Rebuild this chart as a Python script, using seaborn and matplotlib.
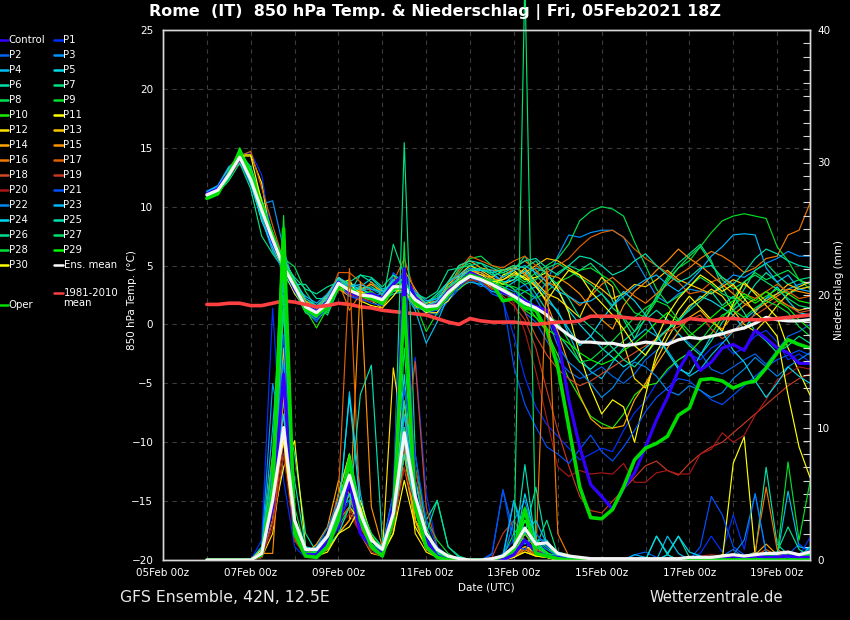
import numpy as np
import pandas as pd
import matplotlib
matplotlib.use("Agg")
import matplotlib.pyplot as plt
import seaborn as sns
from matplotlib.lines import Line2D

# 6-hourly steps from 06Feb 00z to 19Feb 18z (56 values per series)
date_labels = ['05Feb 00z', '07Feb 00z', '09Feb 00z', '11Feb 00z',
               '13Feb 00z', '15Feb 00z', '17Feb 00z', '19Feb 00z']

ens_mean_t = [11.0, 11.4, 12.7, 14.2, 12.3, 9.7, 7.2, 4.9, 3.2, 1.5, 1.0, 1.8, 3.5, 2.9, 2.5, 2.4,
              2.1, 3.2, 3.2, 2.1, 1.5, 1.6, 2.7, 3.5, 4.1, 3.8, 3.4, 2.9, 2.4, 1.8, 1.4, 0.8,
              -0.2, -0.9, -1.5, -1.5, -1.6, -1.6, -1.8, -1.7, -1.5, -1.6, -1.7, -1.3, -1.1, -1.2,
              -1.0, -0.8, -0.5, -0.3, 0.1, 0.6, 0.4, 0.3, 0.3, 0.4]
clim_t = [1.7, 1.7, 1.8, 1.8, 1.6, 1.6, 1.8, 2.0, 1.9, 1.7, 1.5, 1.6, 1.8, 1.7, 1.5, 1.4,
          1.2, 1.1, 1.0, 0.9, 0.8, 0.5, 0.2, 0.0, 0.5, 0.3, 0.2, 0.2, 0.2, 0.1, 0.0, 0.1,
          0.2, 0.2, 0.3, 0.7, 0.7, 0.7, 0.6, 0.5, 0.5, 0.3, 0.2, 0.1, 0.5, 0.4, 0.3, 0.5,
          0.5, 0.4, 0.4, 0.4, 0.5, 0.6, 0.7, 0.8]
oper_t = [10.7, 11.1, 12.8, 14.6, 12.5, 10.0, 7.5, 4.8, 3.3, 1.3, 0.8, 1.5, 3.3, 3.0, 2.5, 2.2,
          1.8, 3.0, 3.3, 1.8, 1.2, 1.4, 2.5, 3.6, 4.2, 3.9, 3.5, 2.0, 2.2, 1.4, 1.2, -0.5,
          -3.6, -8.7, -13.8, -16.4, -16.5, -15.7, -13.8, -11.5, -10.5, -10.1, -9.5, -7.7,
          -7.1, -4.7, -4.6, -4.8, -5.4, -5.0, -4.8, -3.7, -2.4, -1.3, -1.7, -2.0]
control_t = [11.1, 11.5, 12.9, 14.1, 12.5, 9.8, 7.0, 5.0, 3.0, 1.6, 1.1, 1.9, 3.6, 2.7, 2.4, 2.6,
             2.2, 3.4, 4.3, 2.3, 1.4, 1.7, 2.8, 3.6, 4.4, 4.0, 3.5, 2.7, 2.5, 2.0, 1.5, 1.2,
             -1.1, -6.4, -10.4, -13.6, -14.6, -15.7, -13.9, -12.6, -10.4, -8.1, -6.2, -3.9,
             -2.3, -3.9, -3.2, -2.0, -1.7, -2.2, -0.5, -1.2, -2.0, -2.4, -3.3, -3.3]

ens_mean_rr = [0, 0, 0, 0, 0, 0.5, 4.5, 10.0, 3.0, 0.8, 0.8, 1.8, 4.0, 6.4, 3.5, 1.5,
               0.8, 3.5, 9.6, 4.8, 2.0, 0.8, 0.3, 0.1, 0, 0, 0.1, 0.3, 1.0, 2.4, 1.2, 1.3,
               0.5, 0.3, 0.2, 0.1, 0.1, 0.1, 0.1, 0.1, 0.1, 0.1, 0.1, 0.1, 0.2, 0.2, 0.2, 0.3,
               0.4, 0.3, 0.4, 0.5, 0.5, 0.6, 0.4, 0.6]
oper_rr = [0, 0, 0, 0, 0, 0.5, 5, 25, 2, 0.3, 0.2, 1, 3, 7.5, 3, 1,
           0.3, 3, 19.8, 4, 1, 0.2, 0, 0, 0, 0, 0, 0.3, 0.8, 3.8, 0.5, 0.3,
           0.1, 0, 0, 0, 0, 0, 0, 0, 0, 0, 0, 0, 0, 0, 0, 0, 0, 0, 0, 0, 0, 0, 0, 0]
control_rr = [0, 0, 0, 0, 0, 0.5, 4, 14, 2, 0.4, 0.4, 1.4, 2.5, 6, 2, 1,
              0.5, 4, 22, 5, 1.5, 0.3, 0, 0, 0, 0, 0, 0, 0.4, 1.5, 0.6, 0.3,
              0.2, 0, 0, 0, 0, 0, 0, 0, 0, 0, 0, 0, 0, 0, 0, 0.2, 0.3, 0.2, 0.3, 0.2, 0.2, 0.3, 0.2, 0.2]

temp_p1 = [11.2, 11.6, 13.0, 14.4, 14.6, 12.7, 7.0, 5.2, 3.0, 1.2, 0.6, 1.5, 3.2, 2.4, 2.0, 2.2, 1.6, 4.0, 3.6, 2.0, 0.8, 1.0, 2.2, 3.4, 4.4, 4.6, 3.0,
           2.0, -1.0, -4.5, -7.0, -8.5, -9.5, -10.5, -11.5, -11.0, -10.5, -10.8, -9.0, -7.5, -6.5, -5.0, -4.0, -3.0, -2.5, -3.0, -2.0, -1.5, -2.5, -2.0, -1.0, -0.5, -1.5, -3.0, -2.5, -3.2]
temp_p2 = [11.1, 11.5, 12.9, 14.0, 12.0, 9.2, 6.8, 5.0, 3.4, 1.2, 0.2, 1.6, 3.6, 2.6, 2.8, 2.0, 2.4, 3.0, 3.6, 2.6, 1.2, 0.8, 2.0, 3.0, 3.8, 3.2, 3.8,
           3.0, 2.4, 1.0, 0.2, -1.4, -3.0, -4.0, -4.6, -4.2, -3.6, -4.4, -5.0, -4.2, -3.0, -2.2, -1.6, -0.8, -1.6, -2.4, -3.8, -4.2, -3.6, -3.0, -2.5, -3.4, -2.2, -1.0, -0.6, 0.0]
temp_p3 = [11.3, 11.7, 13.1, 13.6, 12.6, 10.2, 10.5, 6.4, 3.2, 1.9, 0.9, 2.1, 3.8, 3.3, 2.9, 3.0, 2.5, 3.8, 4.2, 2.5, 1.8, 2.2, 3.0, 4.0, 4.6, 4.8, 4.2,
           3.6, 3.0, 1.6, 2.4, 3.6, 5.8, 7.6, 7.4, 7.8, 8.0, 8.0, 7.4, 5.6, 4.0, 2.4, 1.8, 2.6, 3.0, 2.8, 2.6, 3.4, 4.2, 4.0, 4.6, 5.2, 5.6, 6.2, 5.8, 5.8]
temp_p4 = [11.2, 11.5, 12.6, 13.8, 12.0, 9.0, 6.2, 4.6, 3.6, 1.8, 1.4, 2.0, 3.9, 3.5, 3.2, 2.4, 2.0, 2.6, 2.8, 1.2, -1.6, 0.2, 2.4, 3.2, 3.6, 3.4, 2.8,
           2.6, 2.2, 2.8, 3.2, 2.0, 1.2, -0.8, -2.8, -4.0, -4.6, -3.2, -2.0, -1.2, -0.4, -1.0, -2.2, -3.6, -4.4, -3.8, -2.6, -1.6, -0.6, 0.4, 1.2, 2.2, 2.6, 3.0, 3.4, 3.6]
temp_p5 = [11.1, 11.4, 12.8, 14.3, 12.2, 9.9, 6.6, 4.4, 2.9, 1.0, 0.6, 2.2, 3.3, 2.6, 3.2, 3.9, 3.0, 3.4, 3.0, 2.4, 1.6, 1.2, 2.4, 3.8, 4.0, 3.5, 3.0,
           3.0, 3.6, 4.2, 4.8, 4.4, 3.0, 1.2, 0.0, -1.0, -2.0, -2.8, -3.6, -3.0, -2.0, -1.2, -0.4, 0.2, 1.4, 2.4, 2.0, 1.4, 0.8, -0.4, 1.0, 2.2, 3.2, 2.0, 1.0, 0.8]
temp_p6 = [10.9, 11.3, 12.4, 14.1, 12.8, 10.4, 7.8, 5.2, 3.4, 3.4, 2.2, 2.2, 3.4, 2.7, 4.2, 3.6, 2.9, 2.8, 3.0, 2.0, 1.6, 1.9, 3.1, 3.8, 4.6, 4.4, 3.8,
           3.4, 4.2, 4.0, 2.6, 1.2, -0.8, -2.0, -3.2, -3.8, -3.0, -2.2, -1.4, -0.6, 0.4, 1.2, 0.4, -0.8, -1.8, -2.6, -1.4, 0.2, 1.2, 2.0, 3.4, 4.4, 3.6, 2.6, 3.0, 3.2]
temp_p7 = [10.8, 11.2, 12.2, 13.7, 11.5, 7.5, 6.0, 4.7, 3.6, 2.0, 1.6, 0.8, 3.0, 3.0, 2.4, 2.8, 1.8, 6.8, 4.2, 2.2, 1.0, 1.4, 3.0, 4.8, 5.2, 4.0, 3.6,
           4.0, 4.6, 5.8, 4.2, 3.2, 4.4, 5.0, 4.6, 5.2, 4.2, 2.0, 0.4, -1.2, 0.6, 2.4, 4.0, 5.2, 6.0, 6.8, 5.4, 3.2, 1.4, 3.0, 4.6, 5.2, 4.2, 3.4, 3.8, 4.0]
temp_p8 = [10.8, 11.3, 12.5, 14.6, 12.4, 9.6, 7.4, 5.6, 4.9, 2.8, 1.4, 1.0, 3.4, 2.8, 2.2, 2.0, 2.4, 3.6, 3.4, 2.6, 1.8, 2.4, 3.6, 4.4, 5.6, 5.8, 5.0,
           4.6, 4.2, 3.6, 4.4, 5.0, 5.6, 6.8, 8.8, 9.6, 10.0, 9.8, 9.2, 7.0, 5.0, 3.0, 1.8, 2.4, 3.2, 4.0, 3.4, 2.6, 2.2, 3.6, 4.4, 3.8, 4.2, 4.6, 3.8, 3.4]
temp_p9 = [10.7, 11.0, 12.6, 14.8, 12.6, 10.0, 7.0, 4.2, 2.8, 1.0, 0.4, 1.2, 3.2, 2.4, 2.6, 2.8, 2.2, 4.2, 3.0, 1.8, -0.6, 1.0, 2.8, 3.6, 4.0, 4.2, 3.6,
           3.4, 3.2, 2.8, 2.2, 2.8, 3.6, 4.0, 4.6, 4.8, 4.2, 3.6, 2.2, 1.0, 0.6, 2.0, 3.8, 4.8, 5.4, 6.6, 7.8, 8.8, 9.2, 9.4, 9.2, 9.0, 6.6, 5.4, 3.8, 3.0]
temp_p10 = [10.7, 11.2, 12.8, 14.9, 12.9, 10.4, 7.6, 5.0, 3.0, 1.3, -0.3, 1.4, 3.6, 3.4, 2.6, 2.6, 1.6, 3.0, 2.6, 1.6, 1.2, 1.8, 2.6, 3.0, 3.8, 3.6, 3.2,
            3.0, 2.6, 1.8, 0.6, -0.6, -2.6, -4.6, -6.2, -7.8, -8.4, -8.8, -7.6, -6.0, -5.2, -5.0, -3.8, -3.0, -2.4, -1.4, -0.8, 0.6, 1.6, 2.4, 1.8, 2.4, 3.0, 2.6, 2.0, 1.8]
temp_p11 = [11.0, 11.5, 12.9, 14.4, 14.4, 12.0, 6.4, 4.6, 2.6, 1.4, 0.8, 2.0, 3.4, 3.8, 2.0, 1.6, 1.4, 2.4, 3.6, 1.6, 1.2, 1.4, 2.0, 3.4, 4.2, 4.0, 3.0,
            4.2, 4.6, 3.8, 4.0, 4.4, 3.0, 1.0, -2.6, -5.4, -7.6, -6.4, -7.0, -10.0, -6.0, -2.4, -0.6, 1.2, 2.4, 1.4, 0.4, -0.6, 1.8, 3.6, 2.6, 1.6, 0.6, -2.0, -4.0, -6.0]
temp_p12 = [11.0, 11.4, 12.7, 14.0, 12.2, 9.5, 7.6, 5.4, 3.6, 1.9, 1.2, 2.4, 3.4, 3.0, 2.4, 2.2, 1.8, 3.4, 3.8, 2.2, 1.0, 1.0, 2.4, 4.2, 5.0, 4.6, 4.0,
            3.4, 3.8, 4.8, 3.6, 2.6, 2.2, 1.4, 0.6, 2.6, 4.0, 3.2, -1.6, -4.6, -5.4, -3.0, -1.2, 0.4, 1.6, 2.2, 3.0, 2.4, 1.2, 0.0, -0.6, 0.4, 1.6, 2.6, 3.2, 3.6]
temp_p13 = [11.1, 11.6, 13.0, 14.5, 13.0, 8.8, 7.2, 5.8, 3.2, 1.6, 1.0, 1.6, 3.0, 2.6, 3.0, 3.4, 2.8, 3.2, 2.8, 1.4, 1.8, 2.0, 3.4, 4.2, 4.6, 4.2, 4.0,
            4.6, 4.8, 4.4, 5.0, 5.6, 5.4, 4.8, 4.2, 3.6, 3.0, 2.2, 2.6, 3.4, 3.2, 3.8, 4.6, 3.8, 3.4, 3.0, 2.6, 3.2, 3.8, 3.4, 2.8, 2.0, 2.6, 3.4, 3.0, 3.2]
temp_p14 = [11.2, 11.6, 13.3, 14.4, 12.6, 9.8, 6.8, 5.6, 3.8, 2.0, 1.4, 2.6, 4.0, 3.2, 2.4, 2.0, 1.4, 3.0, 4.6, 3.0, 1.6, 1.4, 3.6, 5.0, 5.4, 4.8, 4.6,
            4.6, 5.0, 4.2, 3.4, 1.8, -0.6, -3.4, -6.0, -8.0, -8.8, -8.8, -8.6, -6.4, -5.0, -3.4, -2.0, -0.6, 0.6, 1.2, 0.2, -0.4, 0.8, 1.6, 2.2, 2.8, 2.2, 1.6, 1.2, 1.4]
temp_p15 = [11.0, 11.5, 12.7, 14.1, 12.4, 9.4, 7.0, 5.4, 3.6, 1.4, 1.0, 2.6, 3.0, 2.4, 2.6, 2.4, 2.0, 3.2, 3.4, 2.6, 1.4, 1.6, 2.8, 4.0, 4.6, 4.4, 3.8,
            3.8, 4.2, 4.4, 3.2, 4.2, 4.0, 3.4, 2.6, 1.4, 0.4, -0.4, 1.6, 2.8, 3.6, 4.6, 5.4, 6.4, 5.6, 5.0, 4.2, 3.4, 2.6, 1.8, 1.2, 1.8, 2.4, 3.0, 2.8, 2.6]
temp_p16 = [11.1, 11.5, 12.9, 14.6, 12.2, 9.0, 7.6, 5.0, 3.4, 1.6, 0.6, 1.6, 3.6, 1.2, 2.6, 3.6, 2.4, 3.0, 2.8, 1.8, 1.4, 1.2, 2.6, 3.6, 4.2, 4.0, 3.6,
            4.0, 4.8, 5.4, 4.6, 3.6, 3.2, 2.4, 1.6, 2.4, 3.4, 4.0, 3.2, 2.4, 1.8, 2.6, 3.4, 4.2, 4.8, 5.6, 6.2, 5.8, 5.2, 4.4, 4.8, 5.6, 5.8, 7.6, 8.0, 10.3]
temp_p17 = [11.0, 11.4, 12.6, 14.3, 14.7, 11.6, 8.4, 5.4, 3.4, 1.6, 1.2, 2.0, 4.4, 4.4, 3.6, 2.8, 2.0, 3.6, 5.6, 2.6, 1.6, 2.0, 3.0, 4.6, 5.8, 5.4, 5.0,
            4.8, 5.4, 5.8, 5.0, 4.4, 5.0, 5.6, 6.6, 7.4, 7.8, 8.0, 7.4, 6.4, 5.6, 5.0, 4.4, 3.6, 2.6, 2.8, 3.6, 4.0, 3.2, 2.6, 2.2, 2.8, 3.4, 2.8, 2.2, 2.4]
temp_p18 = [10.9, 11.3, 12.6, 14.0, 12.8, 10.2, 7.2, 4.8, 3.0, 1.6, 1.1, 1.8, 3.4, 2.8, 2.4, 2.6, 2.2, 3.6, 3.0, 2.2, 1.6, 1.8, 2.6, 3.6, 3.8, 3.6, 3.0,
            3.0, 2.2, 1.0, -1.0, -2.6, -3.8, -4.6, -5.2, -4.8, -4.2, -3.6, -3.0, -2.4, -1.8, -1.2, -0.6, -0.2, 0.4, 0.8, -0.4, -1.2, -0.6, 0.2, 0.8, 1.4, 2.0, 1.6, 1.0, 1.2]
temp_p19 = [11.0, 11.5, 12.5, 13.9, 12.2, 9.6, 7.0, 5.2, 3.0, 1.4, 0.8, 1.6, 3.4, 2.6, 2.0, 2.0, 1.8, 3.4, 3.2, 2.0, 1.2, 1.8, 3.0, 3.4, 4.0, 3.8, 3.2,
            2.4, 1.6, 0.4, -2.0, -5.6, -9.0, -12.0, -14.6, -15.8, -16.0, -15.0, -14.0, -13.0, -12.0, -11.6, -12.4, -12.8, -11.8, -11.0, -10.4, -10.0, -9.2, -8.4, -7.6, -6.8, -6.0, -5.2, -4.6, -4.2]
temp_p20 = [11.1, 11.4, 12.8, 14.2, 12.6, 9.8, 7.4, 5.0, 3.2, 1.7, 1.2, 1.6, 3.2, 2.6, 2.2, 2.0, 2.2, 3.0, 3.0, 2.0, 1.4, 1.6, 2.4, 3.2, 3.8, 3.6, 3.0,
            2.8, 1.8, -0.6, -4.0, -8.0, -12.1, -12.9, -12.4, -12.7, -12.6, -12.7, -11.8, -13.4, -13.4, -12.6, -12.4, -12.7, -12.7, -11.0, -10.6, -9.2, -10.0, -9.4, -7.7, -6.4, -4.7, -4.2, -3.6, -3.8]
temp_p21 = [11.2, 11.6, 12.9, 14.4, 12.4, 9.4, 7.0, 4.6, 2.8, 1.2, 0.4, 1.4, 3.4, 2.4, 2.2, 1.8, 1.6, 4.4, 3.4, 1.8, 1.0, 1.2, 2.2, 3.2, 4.0, 3.6, 2.6,
            2.2, -3.6, -6.8, -8.7, -10.4, -11.0, -11.8, -10.6, -9.4, -10.8, -11.6, -10.4, -9.0, -7.4, -6.2, -5.4, -4.6, -4.8, -5.6, -6.4, -6.8, -6.0, -5.2, -4.4, -3.6, -3.0, -2.6, -2.2, -2.6]
temp_p22 = [11.3, 11.7, 13.0, 14.0, 11.8, 9.0, 6.4, 4.4, 3.6, 1.8, 0.9, 2.0, 3.8, 3.2, 2.6, 2.4, 2.6, 3.4, 2.6, 1.4, 1.2, 1.6, 2.8, 3.4, 4.0, 3.8, 3.4,
            3.2, 2.8, 3.4, 2.2, 0.6, -1.8, -3.2, -4.0, -5.0, -6.2, -5.4, -4.0, -3.2, -3.6, -4.4, -5.6, -6.0, -5.2, -5.6, -6.2, -5.8, -4.6, -3.8, -2.8, -3.6, -4.4, -3.6, -3.0, -2.4]
temp_p23 = [11.3, 11.8, 13.4, 14.0, 13.2, 9.4, 7.8, 5.4, 3.2, 2.4, 1.8, 2.6, 3.8, 3.2, 3.4, 3.0, 2.8, 3.6, 3.8, 2.8, 2.0, 2.2, 3.6, 4.2, 4.8, 4.6, 4.6,
            4.0, 4.6, 5.0, 4.4, 3.6, 2.8, 2.4, 1.8, 2.0, 2.6, 1.6, 2.4, 3.2, 3.8, 4.2, 3.4, 2.8, 3.6, 4.6, 5.8, 6.6, 7.6, 7.7, 7.6, 4.8, 3.6, 4.2, 3.0, 2.8]
temp_p24 = [11.2, 11.6, 13.2, 14.2, 12.0, 8.8, 6.6, 5.6, 3.8, 2.2, 1.6, 2.4, 4.0, 3.4, 3.0, 2.6, 2.2, 2.8, 3.4, 2.4, 1.6, 2.0, 3.2, 4.0, 4.6, 4.6, 4.4,
            3.6, 3.8, 4.6, 3.4, 2.4, 1.0, -0.4, -1.8, -1.0, 0.4, 1.6, 2.8, 2.0, 0.8, -0.8, -2.4, -3.8, -4.2, -2.6, -1.0, -0.6, -2.2, -3.2, -4.8, -6.2, -5.0, -3.6, -4.4, -5.0]
temp_p25 = [10.9, 11.3, 12.8, 14.5, 13.4, 10.6, 7.8, 5.4, 3.4, 1.8, 1.4, 2.2, 3.6, 3.0, 3.0, 3.2, 2.6, 3.8, 3.4, 2.6, 1.8, 2.6, 3.6, 5.0, 5.4, 5.2, 4.8,
            4.4, 4.8, 5.4, 5.6, 4.8, 4.2, 5.0, 5.8, 5.6, 5.0, 4.2, 4.6, 5.4, 6.0, 5.0, 4.2, 3.6, 4.0, 4.8, 5.0, 4.0, 3.4, 4.4, 5.6, 6.4, 6.0, 5.4, 5.0, 4.8]
temp_p26 = [10.8, 11.2, 12.6, 14.2, 12.0, 9.2, 7.0, 5.2, 4.0, 3.0, 2.6, 3.2, 3.6, 3.6, 4.2, 4.0, 3.2, 4.2, 3.6, 2.6, 2.2, 2.8, 4.6, 4.8, 5.0, 5.2, 4.4,
            4.6, 5.0, 4.8, 5.4, 4.2, 3.4, 2.2, 0.6, -0.2, -1.0, -2.0, -3.0, -3.6, -2.6, -1.4, -0.4, 0.4, 1.2, 2.0, 2.8, 1.6, 2.4, 1.0, -0.6, -1.4, -2.4, -1.8, -1.0, -1.6]
temp_p27 = [10.8, 11.2, 12.4, 14.3, 12.2, 9.8, 7.4, 5.0, 3.2, 1.4, 1.2, 1.8, 3.8, 3.0, 2.4, 2.2, 2.4, 3.2, 4.0, 2.4, 1.4, 1.8, 3.2, 3.8, 4.6, 4.8, 4.2,
            4.4, 4.0, 3.4, 3.8, 4.8, 5.2, 4.6, 4.0, 3.4, 2.6, 1.4, 0.6, -0.6, 1.0, 2.2, 3.6, 4.8, 5.8, 6.6, 5.2, 3.8, 3.0, 3.6, 4.2, 3.6, 3.0, 2.2, 1.6, 1.4]
temp_p28 = [10.7, 11.1, 12.5, 14.8, 13.2, 10.6, 7.2, 5.0, 3.4, 1.2, 0.6, 1.8, 3.4, 2.6, 2.4, 2.8, 2.0, 3.0, 3.2, 2.0, 1.4, 1.6, 2.8, 3.6, 4.2, 4.0, 3.8,
            3.6, 3.0, 2.2, 1.4, 0.8, 0.2, -1.4, -3.2, -3.0, -2.2, -1.4, -0.4, 0.6, 1.4, 2.0, 1.6, 0.4, -0.6, -1.4, -0.2, 0.8, 1.2, 0.6, 1.4, 2.0, 1.6, 1.0, -0.2, -1.0]
temp_p29 = [10.7, 11.1, 12.7, 15.0, 13.0, 10.2, 7.6, 5.4, 3.6, 1.8, 1.0, 1.4, 3.0, 2.8, 2.6, 2.4, 2.0, 3.4, 3.0, 2.0, 1.6, 1.4, 2.4, 3.4, 4.4, 4.0, 3.6,
            3.2, 2.4, 1.2, 0.6, -0.4, -1.0, -1.6, -2.4, -3.0, -3.4, -3.0, -2.2, -1.6, -0.8, 0.2, 1.0, 0.2, -1.0, -0.2, 0.6, 1.4, 2.0, 2.6, 2.0, 2.8, 2.0, 1.4, 0.4, -0.4]
temp_p30 = [11.0, 11.5, 12.8, 14.3, 14.3, 10.4, 7.0, 5.0, 3.0, 1.2, 0.8, 1.8, 3.2, 2.8, 2.8, 2.4, 2.2, 3.0, 2.8, 1.8, 1.0, 1.4, 2.6, 3.8, 4.4, 4.2, 3.6,
            3.8, 4.4, 4.0, 3.2, 2.0, 3.4, 4.6, 4.2, 2.8, 1.8, 0.8, -0.4, -1.8, -2.6, -1.2, 0.8, 2.2, 3.2, 4.2, 3.6, 2.8, 3.4, 2.2, 1.0, 0.2, -1.0, -6.0, -10.4, -13.0]

rr_p1 = [0, 0, 0, 0, 0, 1.5, 19, 6, 1, 0.2, 0.3, 1.2, 3, 4.5, 2, 0.6, 0.4, 2.5, 8, 15.3, 5, 1, 0.2, 0, 0, 0, 0, 0.5, 1.5, 2.5, 1, 0.8,
         0.3, 0, 0, 0, 0, 0, 0, 0, 0, 0, 0, 0, 0, 0.5, 1.8, 0.6, 3.4, 0.8, 5.0, 0.4, 0.2, 0.6, 0.3, 1.7]
rr_p2 = [0, 0, 0, 0, 0, 0.3, 6, 14, 2.5, 0.4, 0.6, 1.5, 3.5, 6, 3, 1, 0.5, 3, 12, 6, 2, 0.5, 0, 0, 0, 0, 0.4, 5.3, 2, 1.4, 0.6, 0.3,
         0.2, 0, 0, 0, 0, 0, 0, 0.4, 0.6, 0.2, 0, 0, 0, 0, 0, 0.3, 0.8, 0.2, 0.4, 0.2, 0, 0.2, 0.4, 0.2]
rr_p3 = [0, 0, 0, 0, 0, 0.8, 13.3, 9, 2, 0.6, 1, 2, 4, 4.5, 3, 1.4, 1, 4, 10, 4, 1.5, 0.5, 0.2, 0, 0, 0, 0, 0, 0.4, 1, 0.5, 0.2,
         0, 0, 0, 0, 0, 0, 0, 0, 0, 0, 0, 0, 0, 0, 0.2, 0, 0, 0, 0, 0, 0, 0, 0.3, 0]
rr_p4 = [0, 0, 0, 0, 0, 0.4, 5, 18.9, 3, 1, 0.8, 1.6, 3, 12.7, 5, 1, 0.4, 3, 9, 5, 2, 0.6, 0.2, 0, 0, 0, 0, 0.2, 4.5, 1.2, 2, 1,
         0.3, 0.2, 0, 0, 0, 0, 0, 0, 0, 0, 1.8, 0.5, 0, 0, 0, 0, 0, 0, 0, 0.6, 0.2, 5.2, 1, 0.8]
rr_p5 = [0, 0, 0, 0, 0, 1, 7, 12, 2, 0.5, 0.8, 1.4, 5, 8, 4, 1.2, 0.6, 4, 14, 4, 1, 0.3, 0, 0, 0, 0, 0, 0, 0.5, 3, 1.5, 1.5,
         0.4, 0, 0, 0, 0, 0, 0, 0, 0, 0, 0, 0, 0, 0, 0, 0.2, 0, 0.2, 0.6, 0.3, 0, 0, 0.3, 0.4]
rr_p6 = [0, 0, 0, 0, 0, 0.6, 6, 12, 8, 2, 0.6, 1.2, 3, 5, 4, 2, 1, 5, 10, 6, 3, 4.5, 1, 0.2, 0, 0, 0, 0, 0.4, 2, 5.5, 1,
         0.3, 0, 0, 0, 0, 0, 0, 0, 0, 1.8, 0.4, 1.8, 0.2, 0, 0, 0, 0, 0, 0.4, 7.0, 1.2, 0.4, 0.2, 0.3]
rr_p7 = [0, 0, 0, 0, 0, 0.2, 3, 16, 2, 0.3, 0.6, 1.8, 4, 7, 3, 1, 0.5, 4, 31.5, 8, 2.5, 0.6, 0.2, 0, 0, 0, 0, 0, 0.8, 2, 1, 3,
         0.4, 0.2, 0, 0, 0, 0, 0, 0, 0, 0, 0, 0, 0, 0, 0.3, 0, 0, 0, 0, 0.2, 0, 0, 0.2, 0]
rr_p8 = [0, 0, 0, 0, 0, 0.5, 4, 22, 2.5, 0.4, 1, 1.6, 3, 6.5, 2.5, 1.8, 0.6, 2, 16, 4, 1.2, 0.3, 0, 0, 0, 0, 0, 0.3, 2, 3, 1.5, 1,
         0.6, 0.4, 0, 0, 0, 0, 0, 0, 0, 0, 0, 0, 0, 0, 0, 0, 0, 0, 0, 0.3, 0, 0, 0.4, 0.2]
rr_p9 = [0, 0, 0, 0, 0, 0.3, 5, 20, 4, 0.8, 0.5, 1.2, 2.5, 4, 3, 1.5, 1, 3, 13, 7, 3, 1.5, 0.5, 0, 0, 0, 0, 0, 0.5, 1.5, 1.2, 0.5,
         0, 0, 0, 0, 0, 0, 0, 0, 0, 0, 0, 0, 0, 0, 0, 0, 0, 0, 0.2, 0.4, 0.3, 7.4, 1.5, 5.9]
rr_p10 = [0, 0, 0, 0, 0, 0.4, 6, 24, 3, 0.6, 0.4, 1, 3.5, 5, 2, 0.8, 0.3, 2.5, 22, 5, 1.5, 0.4, 0, 0, 0, 0, 0, 0, 1, 4, 1.5, 1,
          0.3, 0, 0, 0, 0, 0, 0, 0, 0, 0, 0.4, 0, 0, 0, 0, 0, 0, 0, 0.3, 0.2, 0, 0, 0, 0.2]
rr_p11 = [0, 0, 0, 0, 0, 0.3, 3, 7, 9, 1, 0.3, 0.8, 2, 3, 4.5, 1.8, 0.5, 2, 8, 3, 1.5, 0.3, 0, 0, 0, 0, 0, 0, 0.3, 1, 0.8, 0.4,
          0, 0, 0, 0, 0, 0, 0, 0, 0, 0, 0, 0, 0, 0, 0, 0, 7.3, 9.3, 0.3, 0, 0, 0, 0, 0]
rr_p12 = [0, 0, 0, 0, 0, 0.2, 2, 8, 3, 0.5, 0.3, 1, 3, 4, 3, 1, 0.5, 14.5, 9, 2, 0.6, 0.2, 0, 0, 0, 0, 0, 0, 0.5, 1, 0.6, 0.2,
          0, 0, 0, 0, 0, 0, 0, 0, 0, 0, 0, 0, 0, 0, 0, 0.4, 0.3, 0, 0, 0, 0, 0, 0, 0]
rr_p13 = [0, 0, 0, 0, 0, 0.5, 8, 16, 1.5, 0.3, 0.5, 1.2, 5, 8, 2, 0.5, 0.3, 3.5, 12, 3, 1, 0.2, 0, 0, 0, 0, 0, 0, 0.2, 0.8, 0.3, 0.2,
          0, 0, 0, 0, 0, 0, 0, 0, 0, 0, 0, 0, 0, 0, 0, 0, 0, 0, 0, 0, 0, 0.3, 0.2, 0]
rr_p14 = [0, 0, 0, 0, 0, 0.6, 5, 10, 1.5, 0.4, 1.2, 2.5, 6, 5, 2.5, 1, 0.6, 4, 8, 3, 1, 0.3, 0, 0, 0, 0, 0, 0, 0.5, 2, 0.8, 0.5,
          0, 0, 0, 0, 0, 0, 0, 0, 0, 0, 0, 0, 0, 0, 0, 0, 0, 0, 0.4, 1.2, 0.4, 0.2, 0, 0]
rr_p15 = [0, 0, 0, 0, 0, 0.5, 0.5, 12.5, 3, 0.6, 0.4, 0.8, 2, 3, 21, 4, 1, 3, 7, 3, 0.8, 0.2, 0, 0, 0, 0, 0, 0, 0.3, 0.6, 0.3, 0.2,
          0, 0, 0, 0, 0, 0, 0, 0, 0, 0, 0, 0, 0, 0, 0, 0, 0, 0, 0, 0, 0, 0, 0, 0]
rr_p16 = [0, 0, 0, 0, 0, 0.3, 4, 9, 2, 0.2, 0.6, 1.5, 4, 5, 3, 1, 0.4, 3, 9, 4, 1.5, 0.3, 0, 0, 0, 0, 0, 0, 0.3, 1, 0.4, 22,
          2, 0.3, 0, 0, 0, 0, 0, 0, 0, 0, 0, 0, 0, 0, 0, 0, 0, 0, 0.6, 5.5, 0.8, 0.3, 0.2, 0]
rr_p17 = [0, 0, 0, 0, 0, 0.4, 5, 13, 2, 0.5, 0.8, 2, 5, 22, 3, 1, 0.5, 2, 10, 5, 1.2, 0.2, 0, 0, 0, 0, 0, 0, 0.2, 0.8, 0.5, 0.3,
          0, 0, 0, 0, 0, 0, 0, 0, 0, 0, 0, 0, 0, 0, 0, 0, 0, 0, 0.3, 0.8, 0.3, 0, 0, 0]
rr_p18 = [0, 0, 0, 0, 0, 0.3, 4, 11, 2, 0.5, 0.4, 1.2, 3, 5, 2.5, 1, 0.5, 3, 8, 15, 4, 1, 0.2, 0, 0, 0, 0, 0, 0.4, 1.5, 0.6, 0.3,
          0, 0, 0, 0, 0, 0, 0, 0, 0, 0, 0, 0, 0, 0, 0, 0.2, 0, 0, 0, 0, 0, 0, 0, 0]
rr_p19 = [0, 0, 0, 0, 0, 0.2, 3, 9, 2, 0.3, 0.4, 1, 3, 4, 2, 0.8, 0.4, 3, 11, 7, 2, 0.4, 0, 0, 0, 0, 0.2, 2, 3, 1.5, 0.8, 0.4,
          0, 0, 0, 0, 0, 0, 0, 0, 0, 0, 0, 0, 0, 0, 0, 0, 0, 0, 0.4, 0.2, 0, 0, 0, 0]
rr_p20 = [0, 0, 0, 0, 0, 0.2, 2.5, 8, 1.5, 0.2, 0.3, 1, 2.5, 3.5, 2, 0.6, 0.3, 2.5, 7, 4, 1.2, 0.3, 0, 0, 0, 0, 0, 0, 0.6, 2.5, 1, 0.4,
          0, 0, 0, 0, 0, 0, 0, 0, 0, 0, 0, 0, 0, 0.3, 0.4, 0.3, 0, 0, 0, 0, 0, 0, 0, 0]
rr_p21 = [0, 0, 0, 0, 0, 0.4, 6, 17, 2, 0.3, 0.8, 2, 4, 5, 3, 1, 0.8, 5, 13, 8, 3, 1, 0.3, 0, 0, 0, 0.5, 5.3, 1, 0.8, 2, 1,
          0.6, 0.3, 0.2, 0, 0, 0, 0, 0, 0, 0, 0, 0, 0, 1, 4.8, 3.4, 1, 0.4, 0.3, 0.2, 0.2, 0.4, 1.2, 0.6]
rr_p22 = [0, 0, 0, 0, 0, 0.5, 7, 15, 2.5, 0.6, 1, 2.4, 4.5, 6, 3, 1.2, 0.6, 3, 11, 5, 1.6, 0.4, 0, 0, 0, 0, 0, 0, 3, 4.5, 1.5, 0.8,
          0.3, 0, 0, 0, 0, 0, 0, 0, 0, 0, 0, 0, 0, 0, 0, 0, 0.4, 1.5, 5.0, 0.6, 0.3, 0.2, 0, 0.2]
rr_p23 = [0, 0, 0, 0, 0, 0.6, 10, 21, 3, 0.8, 0.8, 1.8, 4, 6, 3.5, 1.5, 1, 4, 11, 5, 2, 0.5, 0.2, 0, 0, 0, 0, 0.4, 4.5, 2, 3, 1.2,
          0.4, 0.2, 0, 0, 0, 0, 0, 0.4, 0.2, 0, 0.4, 0, 0, 0, 0, 0, 0, 0, 0, 0, 0.2, 0.4, 0, 0.3]
rr_p24 = [0, 0, 0, 0, 0, 0.5, 6, 11, 2, 0.4, 0.6, 1.4, 3.5, 12.3, 4, 1, 0.5, 3, 9, 4, 1.4, 0.3, 0, 0, 0, 0, 0, 0, 0.5, 5.0, 1.5, 0.5,
          0.3, 0, 0, 0, 0, 0, 0, 0, 0, 1.8, 0.5, 1.8, 0.6, 0.3, 0, 0, 0, 0.2, 0.3, 0, 0, 0, 0.2, 1.0]
rr_p25 = [0, 0, 0, 0, 0, 0.8, 4, 13, 6, 1, 0.5, 1, 2, 4, 12.5, 14.7, 1.4, 3, 8, 4, 1, 0.4, 0, 0, 0, 0, 0, 0, 0.3, 7.2, 1, 0.4,
          0.2, 0, 0, 0, 0, 0, 0, 0, 0, 0, 0, 0, 0, 0, 0, 0, 0, 0, 0, 0, 0, 0, 0, 0]
rr_p26 = [0, 0, 0, 0, 0, 0.4, 5, 14, 2, 0.5, 0.5, 1.2, 3, 5, 3, 1.5, 0.5, 3, 12, 6, 2, 4.5, 1, 0.3, 0, 0, 0, 0, 0.4, 1.5, 0.6, 0.3,
          0, 0, 0, 0, 0, 0, 0, 0, 0, 0, 0, 0, 0, 0, 0, 0, 0, 0, 0.3, 0.5, 0.6, 2.5, 0.8, 0.3]
rr_p27 = [0, 0, 0, 0, 0, 0.3, 4, 19, 2.5, 0.4, 0.4, 1.2, 3, 6, 3, 1, 0.6, 3, 10, 5, 1.5, 0.3, 0, 0, 0, 0, 0, 0, 0.5, 44, 1, 0.5,
          0.3, 0, 0, 0, 0, 0, 0, 0, 0, 0, 0, 0, 0, 0, 0, 0, 0, 0, 0, 0, 0, 0, 0.3, 0.2]
rr_p28 = [0, 0, 0, 0, 0, 0.5, 8, 26, 3, 0.6, 0.6, 1.4, 3.5, 7, 4, 2, 0.8, 4, 24, 5, 2, 0.5, 0.2, 0, 0, 0, 0, 0, 0.6, 2, 1, 0.5,
          0, 0, 0, 0, 0, 0, 0, 0, 0, 0, 0, 0, 0, 0, 0, 0, 0, 0, 0, 0, 0, 0, 0, 0]
rr_p29 = [0, 0, 0, 0, 0, 0.3, 6, 23, 2.5, 0.4, 0.6, 1.8, 4, 8, 3.5, 1.2, 0.5, 3, 19, 4.5, 1.4, 0.3, 0, 0, 0, 0, 0, 0, 0.8, 3, 1.2, 0.6,
          0, 0, 0, 0, 0, 0, 0, 0, 0, 0, 0, 0, 0, 0, 0, 0, 0, 0, 0.2, 0.3, 0.2, 0.4, 0.3, 0.4]
rr_p30 = [0, 0, 0, 0, 0, 0.8, 5, 9, 2, 0.4, 0.3, 0.6, 2, 2.5, 4, 1, 0.4, 2, 6, 2.5, 1, 0.2, 0, 0, 0, 0, 0, 0, 0.2, 0.6, 0.3, 0.2,
          0, 0, 0, 0, 0, 0, 0, 0, 0, 0, 0, 0, 0, 0, 0, 0, 0, 0, 0, 0, 0, 0, 0, 0]

member_temp = [temp_p1, temp_p2, temp_p3, temp_p4, temp_p5, temp_p6, temp_p7, temp_p8, temp_p9, temp_p10,
               temp_p11, temp_p12, temp_p13, temp_p14, temp_p15, temp_p16, temp_p17, temp_p18, temp_p19, temp_p20,
               temp_p21, temp_p22, temp_p23, temp_p24, temp_p25, temp_p26, temp_p27, temp_p28, temp_p29, temp_p30]
member_rr = [rr_p1, rr_p2, rr_p3, rr_p4, rr_p5, rr_p6, rr_p7, rr_p8, rr_p9, rr_p10,
             rr_p11, rr_p12, rr_p13, rr_p14, rr_p15, rr_p16, rr_p17, rr_p18, rr_p19, rr_p20,
             rr_p21, rr_p22, rr_p23, rr_p24, rr_p25, rr_p26, rr_p27, rr_p28, rr_p29, rr_p30]
member_names = ['P%d' % i for i in range(1, 31)]

colors = {
    'Control': '#3300ff', 'P1': '#0030ff', 'P2': '#0066f0', 'P3': '#0095ff', 'P4': '#00bff0',
    'P5': '#00d8e8', 'P6': '#00e0a8', 'P7': '#00e080', 'P8': '#00e050', 'P9': '#00e028',
    'P10': '#18f000', 'P11': '#ffff00', 'P12': '#ffe000', 'P13': '#ffc400', 'P14': '#ffa800',
    'P15': '#ff9000', 'P16': '#f07800', 'P17': '#e06000', 'P18': '#d04a20', 'P19': '#c83820',
    'P20': '#a81818', 'P21': '#0050ff', 'P22': '#0088f0', 'P23': '#00b8ff', 'P24': '#00d8f0',
    'P25': '#00e0b0', 'P26': '#00e090', 'P27': '#00e068', 'P28': '#00e038', 'P29': '#00f800',
    'P30': '#ffff00', 'Ens. mean': '#ffffff', '1981-2010\nmean': '#ff4040', 'Oper': '#00dd00',
}

# time axis in days after 05Feb 00z
day = 1 + 0.25 * np.arange(56)

rows = []
for name, tt, rr in zip(member_names, member_temp, member_rr):
    for d, t, r in zip(day, tt, rr):
        rows.append((name, d, t, r))
df = pd.DataFrame(rows, columns=['member', 'day', 'temp', 'rr'])

sns.set_theme(style="dark", rc={
    "figure.facecolor": "black", "axes.facecolor": "black",
    "axes.edgecolor": "#d8d8d8", "text.color": "white",
    "axes.labelcolor": "white", "xtick.color": "white", "ytick.color": "white",
})
plt.rcParams['font.family'] = ['DejaVu Sans']

fig = plt.figure(figsize=(8.5, 6.2), dpi=100)
ax = fig.add_axes([163 / 850, 60 / 620, 647 / 850, 530 / 620])
ax2 = ax.twinx()

thin = 0.85
thick = 2.3
pal = {n: colors[n] for n in member_names}

# temperatures (left axis)
sns.lineplot(data=df, x='day', y='temp', hue='member', palette=pal, estimator=None,
             sort=False, legend=False, lw=thin, ax=ax)
sns.lineplot(x=day, y=control_t, color=colors['Control'], lw=thick, ax=ax)
sns.lineplot(x=day, y=oper_t, color=colors['Oper'], lw=thick + 0.3, ax=ax)
sns.lineplot(x=day, y=ens_mean_t, color='#f4f4f4', lw=thick, ax=ax)
sns.lineplot(x=day, y=clim_t, color=colors['1981-2010\nmean'], lw=thick + 0.3, ax=ax)

# precipitation (right axis)
sns.lineplot(data=df, x='day', y='rr', hue='member', palette=pal, estimator=None,
             sort=False, legend=False, lw=thin, ax=ax2, clip_on=False)
sns.lineplot(x=day, y=control_rr, color=colors['Control'], lw=thick, ax=ax2)
sns.lineplot(x=day, y=oper_rr, color=colors['Oper'], lw=thick + 0.3, ax=ax2)
sns.lineplot(x=day, y=ens_mean_rr, color='#f4f4f4', lw=thick, ax=ax2)

ax.set_xlim(0, 14.75)
ax.set_ylim(-20, 25)
ax2.set_ylim(0, 40)
ax.set_xticks(np.arange(0, 15, 2))
ax.set_xticklabels(date_labels)
ax.set_xticks(np.arange(0, 15), minor=True)
ax.set_yticks(np.arange(-20, 26, 5))
ax2.set_yticks(np.arange(0, 41, 10))
ax2.set_yticks(np.arange(0, 41, 1), minor=True)

ax.grid(True, which='both', axis='x', color='#3c3c3c', ls=(0, (4, 4)), lw=0.8)
ax.grid(True, which='major', axis='y', color='#3c3c3c', ls=(0, (4, 4)), lw=0.8)
ax2.grid(False)
ax.tick_params(axis='both', which='both', length=0, labelsize=7.5, colors='white')
ax.tick_params(axis='x', pad=6)
ax.tick_params(axis='y', pad=7)
ax2.tick_params(axis='y', which='both', direction='in', length=5, width=0.8,
                color='#d8d8d8', labelsize=7.5, labelcolor='white', pad=5)
for a in (ax, ax2):
    for s in a.spines.values():
        s.set_color('#d8d8d8')
        s.set_linewidth(1.0)

ax.set_xlabel('Date (UTC)', fontsize=7.5, labelpad=3)
ax.set_ylabel('850 hPa Temp. (°C)', fontsize=7.5)
ax2.set_ylabel('Niederschlag (mm)', fontsize=7.5)
ax.yaxis.set_label_coords((137 - 163) / 647, 0.49)
ax2.yaxis.set_label_coords((834 - 163) / 647, 0.51)

fig.text(435 / 850, 1 - 12 / 620, 'Rome  (IT)  850 hPa Temp. & Niederschlag | Fri, 05Feb2021 18Z',
         ha='center', va='center', fontsize=11.5, fontweight='bold', color='white')
fig.text(120 / 850, 1 - 598 / 620, 'GFS Ensemble, 42N, 12.5E', ha='left', va='center',
         fontsize=11.3, color='#e8e8e8')
fig.text(650 / 850, 1 - 598 / 620, 'Wetterzentrale.de', ha='left', va='center',
         fontsize=10.6, color='#e8e8e8')

# legend drawn by hand, two columns at the left
left_col = ['Control'] + ['P%d' % i for i in range(2, 31, 2)]
right_col = ['P%d' % i for i in range(1, 30, 2)] + ['Ens. mean']


def legend_entry(x_line, y, name, label=None):
    yy = 1 - y / 620
    fig.add_artist(Line2D([x_line / 850, (x_line + 9) / 850], [yy, yy], color=colors[name],
                          lw=1.8, transform=fig.transFigure))
    fig.text((x_line + 9.5) / 850, yy, label or name, ha='left', va='center',
             fontsize=7.3, color='white', linespacing=0.95)


for k, name in enumerate(left_col):
    legend_entry(-1, 40 + 15 * k, name)
for k, name in enumerate(right_col):
    legend_entry(54, 40 + 15 * k, name)
legend_entry(54, 293, '1981-2010\nmean', '1981-2010')
fig.text(63.5 / 850, 1 - 303 / 620, 'mean', ha='left', va='center', fontsize=7.3, color='white')
legend_entry(-1, 305, 'Oper')

fig.savefig('out.png', dpi=100, facecolor='black')
